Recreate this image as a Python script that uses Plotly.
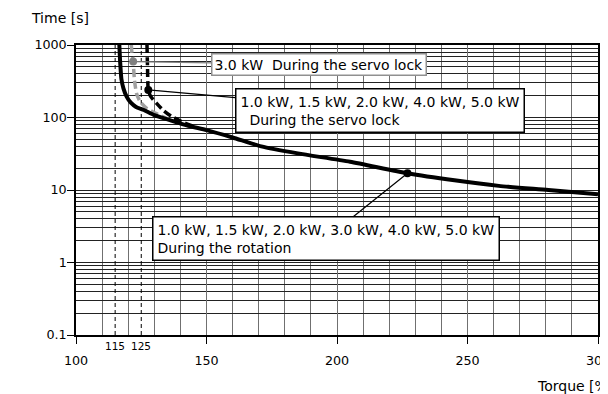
import math
import plotly.graph_objects as go

# rotation curve (all models)
rot_torque = [116.6, 116.9, 117.4, 118.2, 119.4, 121, 123, 126, 130, 136, 143, 150, 160, 171, 185, 205, 227, 245, 262, 281, 300]
rot_time = [1000, 600, 340, 250, 194, 160, 140, 127, 108, 92, 77, 67, 53, 40, 32, 24.5, 17, 13.6, 11.4, 10, 8.7]

# servo lock, 3.0 kW
lock3_torque = [121.2, 121.4, 121.9, 122.4, 123.2, 124.6, 127, 131, 136]
lock3_time = [1000, 800, 590, 330, 215, 165, 135, 112, 93]

# servo lock, other models
lock_torque = [127.2, 127.4, 127.7, 128.6, 130.8, 133.5, 136.5, 141, 146]
lock_time = [1000, 500, 240, 195, 158, 125, 104, 86, 73]

# reference torque lines
ref_torque = [115, 125]
ref_labels = ["115", "125"]

x_ticks = [100, 150, 200, 250, 300]
y_ticks = [0.1, 1, 10, 100, 1000]
y_labels = ["0.1", "1", "10", "100", "1000"]

# label points: (torque, time)
pt_lock3 = (121.9, 590)
pt_lock = (127.7, 240)
pt_rot = (227, 17)

FONT = "DejaVu Sans"

fig = go.Figure()

for t in ref_torque:
    fig.add_trace(go.Scatter(x=[t, t], y=[0.1, 1000], mode="lines",
                             line=dict(color="black", width=1, dash="4px,3px")))

fig.add_trace(go.Scatter(x=lock3_torque, y=lock3_time, mode="lines",
                         line=dict(color="#a0a0a0", width=3.5, dash="8px,4px", shape="spline", smoothing=0.6)))
fig.add_trace(go.Scatter(x=lock_torque, y=lock_time, mode="lines",
                         line=dict(color="black", width=3.5, dash="8px,4px", shape="spline", smoothing=0.6)))
fig.add_trace(go.Scatter(x=rot_torque, y=rot_time, mode="lines",
                         line=dict(color="black", width=4, shape="spline", smoothing=0.6)))

fig.add_trace(go.Scatter(x=[pt_lock3[0]], y=[pt_lock3[1]], mode="markers",
                         marker=dict(color="#808080", size=8)))
fig.add_trace(go.Scatter(x=[pt_lock[0], pt_rot[0]], y=[pt_lock[1], pt_rot[1]], mode="markers",
                         marker=dict(color="black", size=8)))

# callout boxes
fig.add_annotation(x=pt_lock3[0], y=math.log10(pt_lock3[1]), xref="x", yref="y",
                   ax=193.1, ay=math.log10(538), axref="x", ayref="y",
                   text="3.0 kW\u00a0\u00a0During the servo lock",
                   showarrow=True, arrowhead=0, arrowwidth=1.2, arrowcolor="#808080",
                   bgcolor="white", bordercolor="#909090", borderwidth=1.5, borderpad=2,
                   font=dict(family=FONT, size=14, color="black"))
fig.add_annotation(x=pt_lock[0], y=math.log10(pt_lock[1]), xref="x", yref="y",
                   ax=216.3, ay=math.log10(125), axref="x", ayref="y",
                   text="1.0 kW, 1.5 kW, 2.0 kW, 4.0 kW, 5.0 kW<br>\u00a0\u00a0During the servo lock",
                   align="left",
                   showarrow=True, arrowhead=0, arrowwidth=1.2, arrowcolor="black",
                   bgcolor="white", bordercolor="black", borderwidth=1.5, borderpad=4,
                   font=dict(family=FONT, size=14, color="black"))
fig.add_annotation(x=pt_rot[0], y=math.log10(pt_rot[1]), xref="x", yref="y",
                   ax=195.8, ay=math.log10(2.14), axref="x", ayref="y",
                   text="1.0 kW, 1.5 kW, 2.0 kW, 3.0 kW, 4.0 kW, 5.0 kW<br>During the rotation",
                   align="left",
                   showarrow=True, arrowhead=0, arrowwidth=1.2, arrowcolor="black",
                   bgcolor="white", bordercolor="black", borderwidth=1.5, borderpad=4,
                   font=dict(family=FONT, size=14, color="black"))

for t, lab in zip(ref_torque, ref_labels):
    fig.add_annotation(x=t, y=0, xref="x", yref="paper", yanchor="middle", yshift=-11, text=lab,
                       showarrow=False, font=dict(family=FONT, size=10.5, color="black"))

fig.add_annotation(x=-0.09, y=1.093, xref="paper", yref="paper", xanchor="left", yanchor="middle",
                   text="Time [s]", showarrow=False, font=dict(family=FONT, size=14, color="black"))
fig.add_annotation(x=0.879, y=-0.176, xref="paper", yref="paper", xanchor="left", yanchor="middle",
                   text="Torque [%]", showarrow=False, font=dict(family=FONT, size=14, color="black"))

fig.update_xaxes(range=[100, 300], tickmode="array", tickvals=x_ticks, automargin=False,
                 ticks="outside", ticklen=7, tickcolor="black", ticklabelstandoff=6,
                 ticklabeloverflow="allow",
                 showgrid=True, gridcolor="#707070", gridwidth=1.3,
                 minor=dict(tickmode="linear", tick0=100, dtick=10, showgrid=True,
                            gridcolor="#707070", gridwidth=1.3, ticks=""),
                 showline=True, mirror=True, linecolor="black", linewidth=1.5,
                 zeroline=False, tickfont=dict(family=FONT, size=12.7, color="black"))
fig.update_yaxes(type="log", range=[-1, 3], tickmode="array", tickvals=y_ticks, ticktext=y_labels,
                 automargin=False, ticks="outside", ticklen=7, tickcolor="black", ticklabelstandoff=-2,
                 showgrid=True, gridcolor="#222222", gridwidth=1,
                 minor=dict(dtick="D1", showgrid=True, gridcolor="#222222", gridwidth=0.9, ticks=""),
                 showline=True, mirror=True, linecolor="black", linewidth=1.5,
                 zeroline=False, tickfont=dict(family=FONT, size=12.7, color="black"))

# page body adds an 8px offset, so the figure is sized to end at the window edge
fig.update_layout(width=600, height=386, margin=dict(l=68, r=10, t=37, b=59),
                  paper_bgcolor="white", plot_bgcolor="white", showlegend=False,
                  font=dict(family=FONT))

fig.write_html("out.html")
